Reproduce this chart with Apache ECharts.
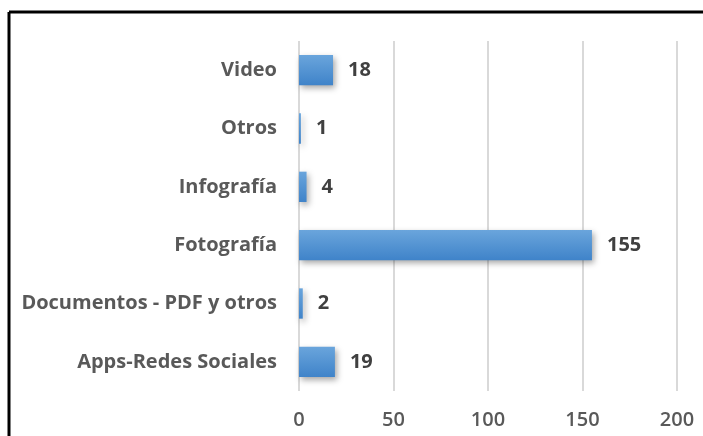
<!DOCTYPE html>
<html>
<head>
<meta charset="utf-8">
<script src="https://cdn.jsdelivr.net/npm/echarts@6/dist/echarts.min.js"></script>
<style>
  html, body { margin: 0; padding: 0; background: #fff; }
  #chart { width: 703px; height: 436px; }
</style>
</head>
<body>
<div id="chart"></div>
<script>
// categorías de abajo hacia arriba
const categories = ['Apps-Redes Sociales', 'Documentos - PDF y otros', 'Fotografía', 'Infografía', 'Otros', 'Video'];
const values = [19, 2, 155, 4, 1, 18];
const xTicks = [0, 50, 100, 150, 200];

const font = 'Open Sans';
const chart = echarts.init(document.getElementById('chart'));

chart.setOption({
    animation: false,
    grid: {left: 299, right: 26, top: 41, bottom: 45},
    xAxis: {
        type: 'value',
        min: xTicks[0],
        max: xTicks[xTicks.length - 1],
        interval: xTicks[1] - xTicks[0],
        axisLine: {show: false},
        axisTick: {show: false},
        splitLine: {lineStyle: {color: '#d9d9d9', width: 2}},
        axisLabel: {color: '#595959', fontFamily: font, fontWeight: 600, fontSize: 20, margin: 19}
    },
    yAxis: {
        type: 'category',
        data: categories,
        axisLine: {show: false},
        axisTick: {show: false},
        axisLabel: {color: '#595959', fontFamily: font, fontWeight: 'bold', fontSize: 20, margin: 22}
    },
    series: [{
        type: 'bar',
        data: values,
        barWidth: '52%',
        itemStyle: {
            color: new echarts.graphic.LinearGradient(0, 0, 0, 1, [
                {offset: 0, color: '#6aa5dc'},
                {offset: 1, color: '#3f83c9'}
            ]),
            shadowColor: 'rgba(0,0,0,0.35)',
            shadowBlur: 6,
            shadowOffsetX: 2,
            shadowOffsetY: 3
        },
        label: {
            show: true,
            position: 'right',
            distance: 15,
            color: '#404040',
            fontFamily: font,
            fontWeight: 'bold',
            fontSize: 20
        }
    }],
    graphic: [
        {type: 'line', shape: {x1: 9, y1: 12, x2: 703, y2: 12}, style: {stroke: '#000', lineWidth: 3}},
        {type: 'line', shape: {x1: 9, y1: 12, x2: 9, y2: 436}, style: {stroke: '#000', lineWidth: 3}}
    ]
});
</script>
</body>
</html>
